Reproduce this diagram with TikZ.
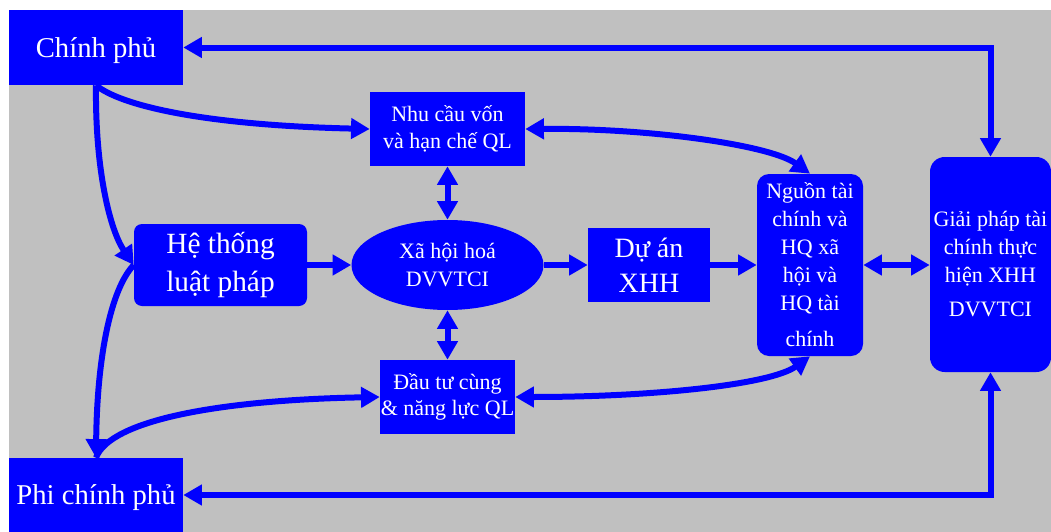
\documentclass[tikz,border=0pt]{standalone}
\usepackage{fontspec}
\setmainfont{Liberation Serif}
\usetikzlibrary{arrows.meta,shapes.geometric}
\definecolor{panelgray}{RGB}{192,192,192}
\definecolor{flowblue}{RGB}{0,0,255}
\begin{document}
\begin{tikzpicture}[x=0.75pt,y=-0.75pt,
  box/.style={fill=flowblue,draw=none,text=white,align=center,inner sep=0pt},
  big/.style={font=\fontsize{21.5}{28}\selectfont},
  small/.style={font=\fontsize{16.5}{21}\selectfont},
  tip/.tip={Triangle[length=14pt,width=15pt]},
  flow/.style={draw=flowblue,line width=4.5pt,-tip},
  both/.style={draw=flowblue,line width=4.5pt,tip-tip}]

% page and gray panel
\useasboundingbox (0,0) rectangle (1051,532);
\fill[white] (0,0) rectangle (1051,532);
\fill[panelgray] (9,10) rectangle (1051,532);

% actors
\node[box,big,text depth=0pt,minimum width=130.5pt,minimum height=56.25pt] (cp) at (96,47.5) {Chính phủ};
\node[box,big,text depth=0pt,minimum width=130.5pt,minimum height=55.5pt] (pcp) at (96,495) {Phi chính phủ};

% central blocks
\node[box,font=\fontsize{22}{28.5}\selectfont,rounded corners=6pt,minimum width=129.75pt,minimum height=61.5pt] (ht) at (220.5,265) {Hệ thống\\luật pháp};
\node[box,font=\fontsize{16.5}{20}\selectfont,minimum width=116.25pt,minimum height=55.5pt] (ncv) at (447.5,129) {Nhu cầu vốn\\và hạn chế QL};
\node[box,ellipse,small,minimum width=144pt,minimum height=67.5pt] (xh) at (447.5,265) {Xã hội hoá\\DVVTCI};
\node[box,font=\fontsize{21}{26}\selectfont,minimum width=91.5pt,minimum height=55.5pt] (da) at (649,265) {Dự án\\XHH};
\node[box,font=\fontsize{16.5}{20}\selectfont,minimum width=101.25pt,minimum height=55.5pt] (dt) at (447.5,397) {Đầu tư cùng\\\& năng lực QL};

% outcome blocks
\node[box,small,rounded corners=9pt,minimum width=79.5pt,minimum height=136.5pt] (ng) at (810,265) {Nguồn tài\\chính và\\HQ xã\\hội và\\HQ tài\\[6pt]chính};
\node[box,small,rounded corners=11pt,minimum width=90.75pt,minimum height=161.25pt] (gp) at (990.5,264.5) {Giải pháp tài\\chính thực\\hiện XHH\\[4.5pt]DVVTCI};

% outer loops
\draw[both] (cp.east) -| (gp.north);
\draw[both] (pcp.east) -| (gp.south);

% left-hand curves
\draw[flow] (cp.south) .. controls (120,105) and (200,125) .. (ncv.west);
\draw[flow] (cp.south) .. controls (95,170) and (110,230) .. (ht.west);
\draw[flow] (ht.west) .. controls (110,290) and (97,360) .. (pcp.north);
\draw[flow] (pcp.north) .. controls (110,420) and (220,400) .. (dt.west);

% main chain
\draw[flow] (ht.east) -- (xh.west);
\draw[flow] (xh.east) -- (da.west);
\draw[flow] (da.east) -- (ng.west);
\draw[both] (ncv.south) -- (xh.north);
\draw[both] (xh.south) -- (dt.north);
\draw[both] (ncv.east) .. controls (650,128) and (770,145) .. (ng.north);
\draw[both] (dt.east) .. controls (650,397) and (770,385) .. (ng.south);
\draw[both] (ng.east) -- (ng.east -| gp.west);
\end{tikzpicture}
\end{document}
